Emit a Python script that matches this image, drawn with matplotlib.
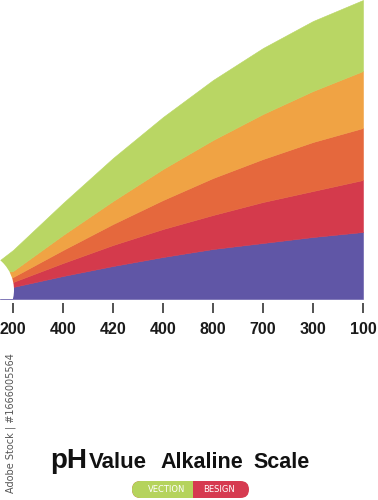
import matplotlib
matplotlib.use("Agg")
import matplotlib.pyplot as plt
from matplotlib.patches import Circle, FancyBboxPatch, Rectangle

# x positions: left edge of the band, then the 8 ticks
x = [-0.26, 0, 1, 2, 3, 4, 5, 6, 7]
tick_labels = ["200", "400", "420", "400", "800", "700", "300", "100"]

# layer thicknesses, bottom to top
purple = [10, 12, 23, 33, 42, 50, 56, 62, 67]
red = [5, 5, 13, 21, 28, 34, 41, 46, 52]
dark_orange = [5, 5, 13, 21, 29, 37, 43, 49, 52]
orange = [6, 6, 15, 23, 31, 38, 45, 51, 57]
green = [13, 21, 32, 43, 52, 60, 66, 70, 71]

colors = ["#6056a6", "#d43a4c", "#e5683d", "#f0a344", "#b9d664"]

fig = plt.figure(figsize=(3.78, 5), dpi=100)
ax = fig.add_axes([0, 0.402, 363 / 378, 0.598])

ax.stackplot(x, purple, red, dark_orange, orange, green,
             colors=colors, linewidth=0.4, edgecolor="face")

# white round cut-out at the lower left corner
ax.add_patch(Circle((-0.25, 2.10), 0.39, transform=fig.dpi_scale_trans,
                    facecolor="white", edgecolor="none", zorder=3))

ax.set_xlim(x[0], 7)
ax.set_ylim(0, 299)
for s in ax.spines.values():
    s.set_visible(False)
ax.spines["bottom"].set_position(("outward", 3))
ax.set_yticks([])
ax.set_xticks(range(len(tick_labels)))
ax.set_xticklabels(tick_labels)
ax.tick_params(axis="x", length=7.2, width=1.1, pad=6, color="#222222",
               labelsize=11.5, labelcolor="#1a1a1a")
for lbl in ax.get_xticklabels():
    lbl.set_fontweight("bold")
    lbl.set_family("Liberation Sans")

# title
ty = 1 - 468 / 500
fig.text(50 / 378, ty, "pH", fontsize=20, fontweight="bold",
         family="Liberation Sans", color="#111111", va="baseline")
fig.text(89 / 378, ty, "Value", fontsize=16, fontweight="bold",
         family="Liberation Sans", color="#111111", va="baseline")
fig.text(160 / 378, ty, "Alkaline", fontsize=15.5, fontweight="bold",
         family="Liberation Sans", color="#111111", va="baseline")
fig.text(253 / 378, ty, "Scale", fontsize=15.5, fontweight="bold",
         family="Liberation Sans", color="#111111", va="baseline")

# badge
tr = fig.dpi_scale_trans
fig.patches.append(FancyBboxPatch((1.32, 0.02), 1.17, 0.17,
                                  boxstyle="round,pad=0,rounding_size=0.085",
                                  transform=tr, facecolor="#d63a50", edgecolor="none"))
fig.patches.append(FancyBboxPatch((1.32, 0.02), 0.75, 0.17,
                                  boxstyle="round,pad=0,rounding_size=0.085",
                                  transform=tr, facecolor="#b5d35c", edgecolor="none"))
fig.patches.append(Rectangle((1.93, 0.02), 0.25, 0.17, transform=tr,
                             facecolor="#d63a50", edgecolor="none"))
fig.text(167 / 378, 1 - 490 / 500, "VECTION", fontsize=6, color="white",
         ha="center", va="center")
fig.text(219 / 378, 1 - 490 / 500, "BESIGN", fontsize=6, color="white",
         ha="center", va="center")

# side stamp
fig.text(11 / 378, 1 - 423 / 500, "Adobe Stock | #1666005564", rotation=90,
         fontsize=7, color="#555555", ha="center", va="center")

fig.savefig("out.png", dpi=100)
